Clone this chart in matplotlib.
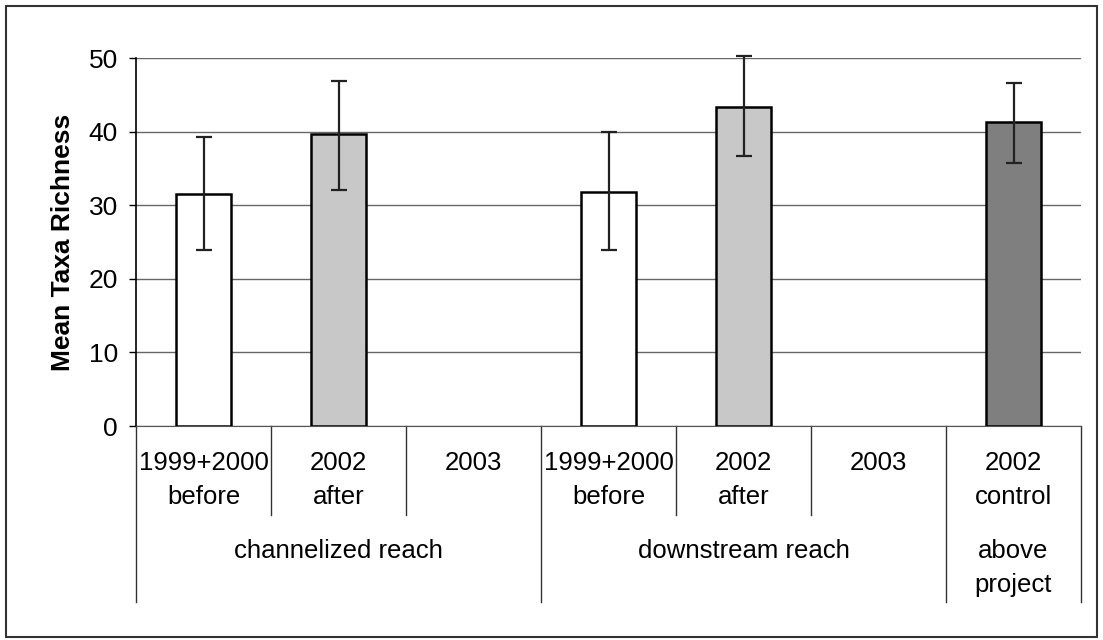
import numpy as np
import matplotlib.pyplot as plt
from matplotlib.patches import Rectangle
from matplotlib.transforms import blended_transform_factory

plt.rcParams['font.family'] = ['Liberation Sans', 'DejaVu Sans']

# data (None = no bar for that year)
categories = ["1999+2000\nbefore", "2002\nafter", "2003",
              "1999+2000\nbefore", "2002\nafter", "2003",
              "2002\ncontrol"]
groups = ["channelized reach", "downstream reach", "above\nproject"]
group_spans = [(0, 2), (3, 5), (6, 6)]
means = [31.5, 39.7, None, 31.8, 43.3, None, 41.3]
err_low = [23.9, 32.0, None, 23.9, 36.7, None, 35.8]
err_high = [39.3, 46.9, None, 40.0, 50.3, None, 46.6]
colors = ["white", "#c8c8c8", None, "white", "#c8c8c8", None, "#7f7f7f"]

W, H = 1103, 640
fig = plt.figure(figsize=(W / 100, H / 100), dpi=100)
ax = fig.add_axes([136 / W, 1 - 426 / H, (1081 - 136) / W, (426 - 58) / H])

idx = [i for i, m in enumerate(means) if m is not None]
x = np.array(idx)
h = np.array([means[i] for i in idx])
lo = h - np.array([err_low[i] for i in idx])
hi = np.array([err_high[i] for i in idx]) - h
ax.bar(x, h, width=0.41, color=[colors[i] for i in idx],
       edgecolor="black", linewidth=1.8, zorder=3)
eb = ax.errorbar(x, h, yerr=[lo, hi], fmt="none", ecolor="#222222",
                 elinewidth=1.6, capsize=6, capthick=1.6, zorder=4)
for art in eb.lines[1] + eb.lines[2]:
    art.set_clip_on(False)

ax.set_xlim(-0.5, len(categories) - 0.5)
ax.set_ylim(0, 50)
ax.set_yticks(np.arange(0, 51, 10))
ax.tick_params(axis="y", labelsize=19, length=5, width=1, pad=8)
ax.set_xticks([])
ax.grid(axis="y", color="#666666", linewidth=1, zorder=0)
for s in ["top", "right"]:
    ax.spines[s].set_visible(False)
ax.spines["left"].set_linewidth(1.2)
ax.spines["bottom"].set_color("#555555")
ax.set_ylabel("Mean Taxa Richness", fontsize=19, fontweight="bold", labelpad=10)

# table-like category labels below the axis
tr = blended_transform_factory(ax.transData, fig.transFigure)
fy = lambda p: 1 - p / H
for i, lab in enumerate(categories):
    n = lab.count("\n")
    ax.text(i, fy(463 + 17 * n), lab, transform=tr, ha="center", va="center",
            fontsize=18.5, linespacing=1.55)
bounds = np.arange(-0.5, len(categories), 1.0)
group_edges = [-0.5, 2.5, 5.5, 6.5]
for b in bounds:
    bottom = 602 if b in group_edges else 515
    ax.plot([b, b], [fy(426), fy(bottom)], transform=tr, color="#333333",
            linewidth=1, clip_on=False)
for (a, b), g in zip(group_spans, groups):
    n = g.count("\n")
    ax.text((a + b) / 2, fy(551 + 17 * n), g, transform=tr, ha="center",
            va="center", fontsize=18.5, linespacing=1.55)

# outer frame
fig.patches.append(Rectangle((6 / W, 1 - 637 / H), (1097 - 6) / W, (637 - 6) / H,
                             transform=fig.transFigure, fill=False,
                             edgecolor="#333333", linewidth=1.5))

fig.savefig("out.png", dpi=100)
